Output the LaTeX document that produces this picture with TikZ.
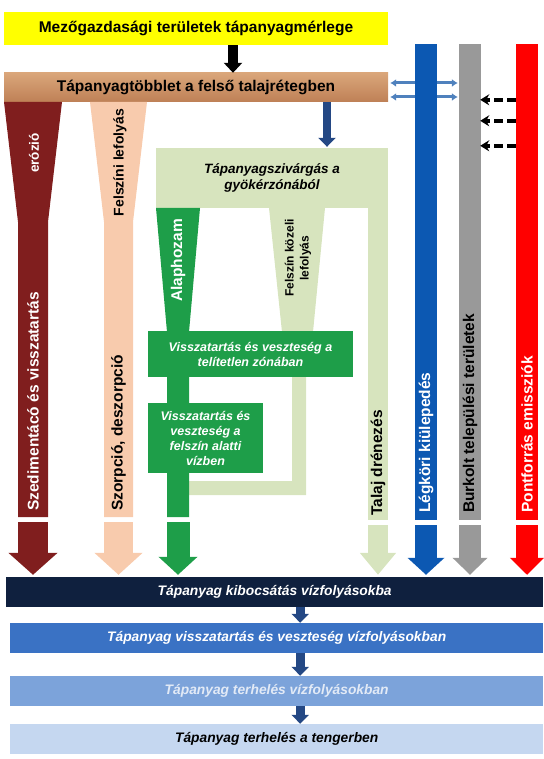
\documentclass[tikz,border=0pt]{standalone}
\usepackage{fontspec}
\setmainfont{Liberation Sans}
\usepackage{tikz}
\usetikzlibrary{arrows.meta,positioning,calc}
\definecolor{BalanceYellow}{RGB}{255,255,0}
\definecolor{SurplusTop}{RGB}{218,166,122}
\definecolor{SurplusBottom}{RGB}{190,128,86}
\definecolor{ErosionRed}{RGB}{128,30,30}
\definecolor{RunoffPeach}{RGB}{248,203,173}
\definecolor{LeachGreen}{RGB}{215,228,190}
\definecolor{BaseGreen}{RGB}{30,158,73}
\definecolor{DepositionBlue}{RGB}{12,88,178}
\definecolor{UrbanGray}{RGB}{153,153,153}
\definecolor{PointRed}{RGB}{255,0,0}
\definecolor{ExchangeBlue}{RGB}{79,129,189}
\definecolor{FlowBlue}{RGB}{36,72,132}
\definecolor{EmissionNavy}{RGB}{15,32,62}
\definecolor{RetentionBlue}{RGB}{58,114,196}
\definecolor{LoadBlue}{RGB}{124,163,218}
\definecolor{LoadText}{RGB}{226,234,246}
\definecolor{SeaBlue}{RGB}{197,215,240}

\begin{document}
\begin{tikzpicture}[x=1pt, y=-1pt, >=Latex,
    topbar/.style={minimum width=384pt, inner sep=0pt, font=\fontsize{15.5}{18}\selectfont\bfseries},
    rivbar/.style={minimum height=30pt, inner sep=0pt, anchor=west, font=\fontsize{13.8}{16}\selectfont\bfseries\itshape},
    colbar/.style={minimum width=22pt, minimum height=476pt, inner sep=0pt},
    coltext/.style={rotate=90, anchor=west, inner sep=0pt, font=\fontsize{15.5}{18}\selectfont\bfseries},
    greenbox/.style={fill=BaseGreen, text=white, align=center, inner sep=0pt, font=\fontsize{12.5}{15}\selectfont\bfseries\itshape},
    dasharrow/.style={line width=3.5pt, dash pattern=on 9pt off 4pt, -{Stealth[length=9pt,width=11pt,inset=3pt]}},
    swaparrow/.style={ExchangeBlue, line width=3pt, {Latex[length=6pt,width=8pt]}-{Latex[length=6pt,width=8pt]}},
  ]
  \useasboundingbox (0,0) rectangle (543,759);

  \node[topbar, fill=BalanceYellow, minimum height=33pt] (balance) at (196,28.5) {Mezőgazdasági területek tápanyagmérlege};
  \node[topbar, top color=SurplusTop, bottom color=SurplusBottom, minimum height=29pt] (surplus) at (196,87.5) {Tápanyagtöbblet a felső talajrétegben};
  \draw[line width=10pt, -{Triangle[width=18pt,length=10pt]}] ([xshift=37pt]balance.south) -- ([xshift=37pt]surplus.north);

  \node[colbar, fill=UrbanGray] (burkolt) at (470,282) {};
  \node[colbar, fill=PointRed] (pontforras) at (527,282) {};
  \draw[swaparrow] ([xshift=2pt,yshift=4.5pt]surplus.east) -- ([xshift=-1pt,yshift=4.5pt]surplus.east -| burkolt.west);
  \draw[swaparrow] ([xshift=2pt,yshift=-9.5pt]surplus.east) -- ([xshift=-1pt,yshift=-9.5pt]surplus.east -| burkolt.west);
  \node[colbar, fill=DepositionBlue] (legkori) at (426,282) {};
  \draw[dasharrow] ([yshift=-56pt]pontforras.north west) -- ([xshift=-1pt,yshift=-56pt]pontforras.north west -| burkolt.east);
  \draw[dasharrow] ([yshift=-77pt]pontforras.north west) -- ([xshift=-1pt,yshift=-77pt]pontforras.north west -| burkolt.east);
  \draw[dasharrow] ([yshift=-102pt]pontforras.north west) -- ([xshift=-1pt,yshift=-102pt]pontforras.north west -| burkolt.east);

  \fill[ErosionRed] (4,102) -- (62,102) -- (48,222) -- (48,517) -- (18,517) -- (18,222) -- cycle;
  \coordinate (erosionfoot) at (33,517);
  \fill[RunoffPeach] (90,102) -- (147,102) -- (133,222) -- (133,517) -- (104,517) -- (104,222) -- cycle;
  \coordinate (runofffoot) at (118.5,517);

  \node[fill=LeachGreen, minimum width=232pt, minimum height=60pt, inner sep=0pt, align=center, font=\fontsize{13.5}{16}\selectfont\bfseries\itshape] (leach) at (272,178) {Tápanyagszivárgás a\\gyökérzónából};
  \node[fill=LeachGreen, minimum width=20pt, minimum height=372pt, inner sep=0pt] (drain) at (378,334) {};
  \draw[FlowBlue, line width=8pt, -{Triangle[width=17pt,length=9pt]}, shorten >=1pt] ([xshift=131pt]surplus.south) -- ([xshift=131pt]surplus.south |- leach.north);

  \fill[LeachGreen] (269,208) -- (325,208) -- (313,332) -- (313,340) -- (306,340) -- (306,495) -- (189,495) -- (189,481) -- (292,481) -- (292,340) -- (282,340) -- (282,332) -- cycle;
  \fill[BaseGreen] (156,208) -- (200,208) -- (189,332) -- (189,517) -- (167,517) -- (167,332) -- cycle;
  \coordinate (basefoot) at (178,517);
  \node[greenbox, minimum width=205pt, minimum height=46pt] (unsat) at (250.5,354) {Visszatartás és veszteség a\\telítetlen  zónában};
  \node[greenbox, minimum width=115pt, minimum height=70pt] (groundwater) at (205.5,438) {Visszatartás és\\veszteség a\\felszín alatti\\vízben};

  \node[coltext, anchor=center, text=white, font=\fontsize{13.5}{16}\selectfont\bfseries] (erosiontext) at (34,153) {erózió};
  \node[coltext, anchor=center, font=\fontsize{14}{16}\selectfont\bfseries] (runofftext) at (120,162.5) {Felszíni lefolyás};
  \node[coltext, text=white] (sedimenttext) at (33,511) {Szedimentácó és visszatartás};
  \node[coltext] (sorptiontext) at (118.5,511) {Szorpció, deszorpció};
  \node[coltext, text=white] (basetext) at (178,302) {Alaphozam};
  \node[coltext, anchor=center, align=center, font=\fontsize{12}{15}\selectfont\bfseries] (nearsurftext) at (298,258) {Felszín  közeli\\lefolyás};
  \node[coltext] (draintext) at (378,516) {Talaj drénezés};
  \node[coltext, text=white] (legkoritext) at (426,513) {Légköri kiülepedés};
  \node[coltext] (burkolttext) at (470,513) {Burkolt települési területek};
  \node[coltext, text=white] (pontforrastext) at (527,513) {Pontforrás emissziók};

  \node[rivbar, fill=EmissionNavy, text=white, minimum width=537pt] (emission) at (6,592) {Tápanyag kibocsátás vízfolyásokba};
  \node[rivbar, fill=RetentionBlue, text=white, minimum width=533pt] (retention) at (10,638) {Tápanyag visszatartás és veszteség vízfolyásokban};
  \node[rivbar, fill=LoadBlue, text=LoadText, minimum width=533pt] (riverload) at (10,691) {Tápanyag terhelés vízfolyásokban};
  \node[rivbar, fill=SeaBlue, minimum width=533pt] (seaload) at (10,739) {Tápanyag terhelés a tengerben};
  \draw[FlowBlue, line width=9pt, -{Triangle[width=17pt,length=9pt]}] ([xshift=25.5pt]emission.south) -- ([xshift=25.5pt]emission.south |- retention.north);
  \draw[FlowBlue, line width=9pt, -{Triangle[width=17pt,length=9pt]}] ([xshift=25.5pt]emission.south |- retention.south) -- ([xshift=25.5pt]emission.south |- riverload.north);
  \draw[FlowBlue, line width=9pt, -{Triangle[width=17pt,length=9pt]}] ([xshift=25.5pt]emission.south |- riverload.south) -- ([xshift=25.5pt]emission.south |- seaload.north);

  \draw[ErosionRed, line width=30pt, -{Triangle[width=48pt,length=22pt]}, shorten >=2pt] ([yshift=-5pt]erosionfoot) -- (erosionfoot |- emission.north);
  \draw[RunoffPeach, line width=29pt, -{Triangle[width=47pt,length=22pt]}, shorten >=2pt] ([yshift=-5pt]runofffoot) -- (runofffoot |- emission.north);
  \draw[BaseGreen, line width=23pt, -{Triangle[width=38pt,length=18pt]}, shorten >=2pt] ([yshift=-5pt]basefoot) -- (basefoot |- emission.north);
  \draw[LeachGreen, line width=20pt, -{Triangle[width=35pt,length=22pt]}, shorten >=2pt] ([yshift=-5pt]drain.south) -- (drain.south |- emission.north);
  \draw[DepositionBlue, line width=22pt, -{Triangle[width=36pt,length=17pt]}, shorten >=2pt] ([yshift=-5pt]legkori.south) -- (legkori.south |- emission.north);
  \draw[UrbanGray, line width=22pt, -{Triangle[width=34pt,length=17pt]}, shorten >=2pt] ([yshift=-5pt]burkolt.south) -- (burkolt.south |- emission.north);
  \draw[PointRed, line width=22pt, -{Triangle[width=33pt,length=17pt]}, shorten >=2pt] ([yshift=-5pt]pontforras.south) -- (pontforras.south |- emission.north);
\end{tikzpicture}
\end{document}
